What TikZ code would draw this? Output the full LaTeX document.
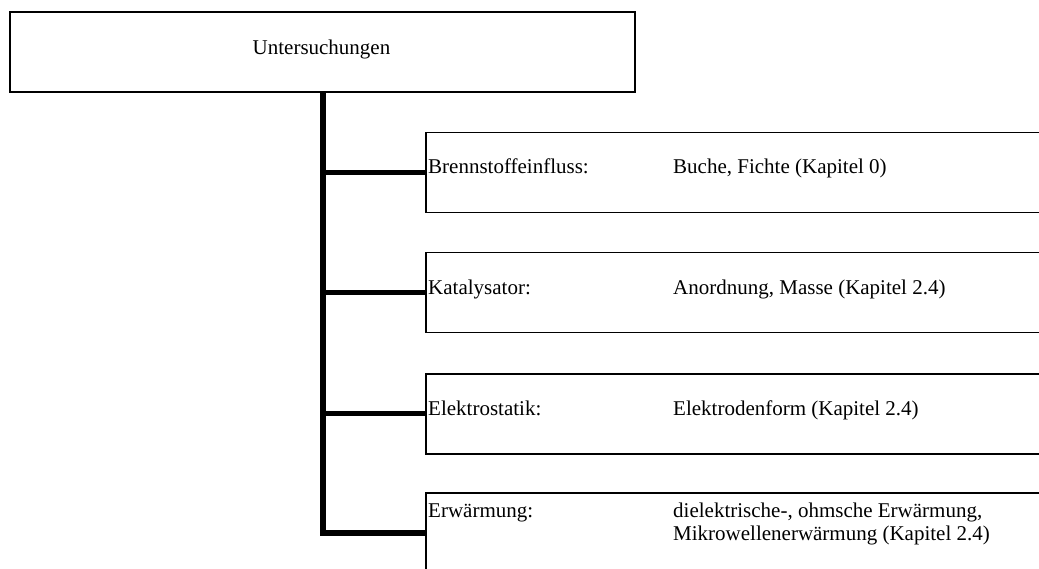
\documentclass[tikz,border=0pt]{standalone}
\usepackage{fontspec}
\setmainfont{Liberation Serif}
\begin{document}
\begin{tikzpicture}[x=1pt,y=-1pt,
  box/.style={draw,line width=1.5pt,rectangle,minimum width=620pt,minimum height=80pt,anchor=north west,inner sep=0pt},
  topbox/.style={draw,line width=2pt,rectangle,minimum width=625pt,minimum height=80pt,anchor=north west,inner sep=0pt},
  lbl/.style={anchor=base west,inner sep=0pt,font=\fontsize{21}{23}\selectfont},
  trunk/.style={line width=6pt},
  branch/.style={line width=5pt}]
\useasboundingbox (0,0) rectangle (1039,569);
\clip (0,0) rectangle (1039,569);
\fill[white] (0,0) rectangle (1039,569);

\node[topbox] (top) at (9,11) {};
\node[lbl,anchor=base] (toplbl) at (321.5,55) {Untersuchungen};

\node[box] (b1) at (425,132) {};
\node[box] (b2) at (425,252) {};
\node[box] (b3) at (425,373) {};
\node[box] (b4) at (425,492) {};

\node[lbl] (l1) at (428,174) {Brennstoffeinfluss:};
\node[lbl] (r1) at (673,174) {Buche, Fichte (Kapitel 0)};
\node[lbl] (l2) at (428,295) {Katalysator:};
\node[lbl] (r2) at (673,295) {Anordnung, Masse (Kapitel 2.4)};
\node[lbl] (l3) at (428,415) {Elektrostatik:};
\node[lbl] (r3) at (673,415) {Elektrodenform (Kapitel 2.4)};
\node[lbl] (l4) at (428,517) {Erwärmung:};
\node[lbl] (r4a) at (673,517) {dielektrische-, ohmsche Erwärmung,};
\node[lbl] (r4b) at (673,540) {Mikrowellenerwärmung (Kapitel 2.4)};

\draw[trunk] (top.south) -- (top.south |- b4.west) -- (b4.west);
\draw[branch] (top.south |- b1.west) -- (b1.west);
\draw[branch] (top.south |- b2.west) -- (b2.west);
\draw[branch] (top.south |- b3.west) -- (b3.west);
\end{tikzpicture}
\end{document}
